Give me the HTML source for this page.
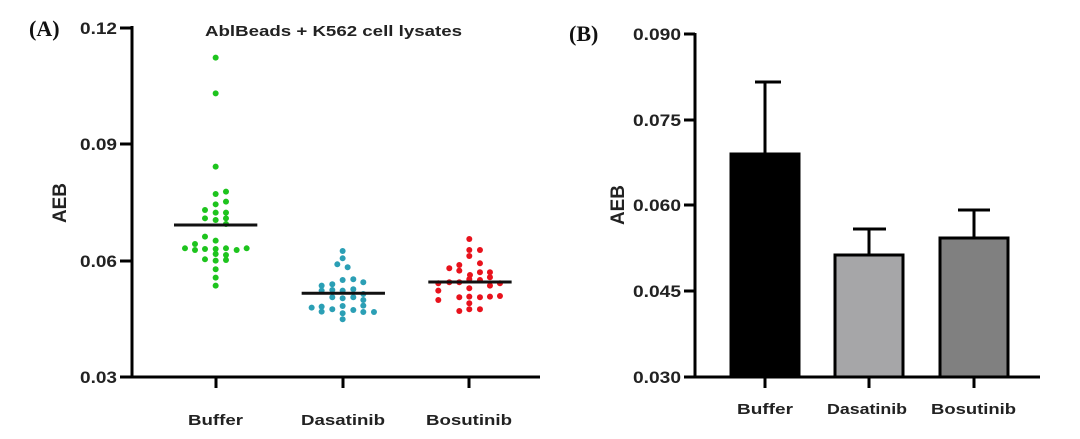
<!DOCTYPE html>
<html><head><meta charset="utf-8"><style>
body{margin:0;background:#fff}
svg{display:block}
text{font-family:"Liberation Sans",sans-serif;font-weight:bold;fill:#222}
</style></head><body>
<svg width="1080" height="439" viewBox="0 0 1080 439">
<!-- Panel A -->
<text x="29" y="36" style="font-family:'Liberation Serif',serif;font-size:22px;fill:#111">(A)</text>
<text x="205" y="36" font-size="15" textLength="257" lengthAdjust="spacingAndGlyphs">AblBeads + K562 cell lysates</text>
<g stroke="#000" stroke-width="3" fill="none">
<line x1="132" y1="26" x2="132" y2="378"/>
<line x1="131" y1="377" x2="540" y2="377"/>
<line x1="120" y1="28" x2="132" y2="28"/>
<line x1="120" y1="144" x2="132" y2="144"/>
<line x1="120" y1="261" x2="132" y2="261"/>
<line x1="120" y1="377" x2="132" y2="377"/>
<line x1="216" y1="377" x2="216" y2="388"/>
<line x1="343" y1="377" x2="343" y2="388"/>
<line x1="469" y1="377" x2="469" y2="388"/>
</g>
<g font-size="17">
<text x="80" y="34" textLength="37" lengthAdjust="spacingAndGlyphs">0.12</text><text x="80" y="150" textLength="37" lengthAdjust="spacingAndGlyphs">0.09</text><text x="80" y="267" textLength="37" lengthAdjust="spacingAndGlyphs">0.06</text><text x="80" y="383" textLength="37" lengthAdjust="spacingAndGlyphs">0.03</text>
</g>
<text transform="translate(66,203) rotate(-90)" text-anchor="middle" font-size="19" textLength="40" lengthAdjust="spacingAndGlyphs">AEB</text>
<g font-size="15">
<text x="188" y="425" textLength="55" lengthAdjust="spacingAndGlyphs">Buffer</text><text x="301" y="425" textLength="84" lengthAdjust="spacingAndGlyphs">Dasatinib</text><text x="426" y="425" textLength="86" lengthAdjust="spacingAndGlyphs">Bosutinib</text>
</g>
<g transform="translate(120,20) scale(0.3333)">
<g fill="#1ec41e">
<circle cx="287" cy="113" r="9"/><circle cx="287" cy="220" r="9"/><circle cx="287" cy="440" r="9"/><circle cx="287" cy="522" r="9"/><circle cx="318" cy="515" r="9"/><circle cx="287" cy="553" r="9"/><circle cx="318" cy="545" r="9"/><circle cx="255" cy="570" r="9"/><circle cx="287" cy="578" r="9"/><circle cx="318" cy="578" r="9"/><circle cx="255" cy="595" r="9"/><circle cx="287" cy="600" r="9"/><circle cx="318" cy="595" r="9"/><circle cx="318" cy="612" r="9"/>
<circle cx="255" cy="650" r="9"/><circle cx="287" cy="662" r="9"/><circle cx="225" cy="672" r="9"/><circle cx="195" cy="685" r="9"/><circle cx="225" cy="690" r="9"/><circle cx="255" cy="687" r="9"/><circle cx="287" cy="687" r="9"/><circle cx="318" cy="685" r="9"/><circle cx="350" cy="690" r="9"/><circle cx="380" cy="685" r="9"/><circle cx="287" cy="702" r="9"/><circle cx="255" cy="718" r="9"/><circle cx="287" cy="722" r="9"/><circle cx="318" cy="720" r="9"/><circle cx="318" cy="705" r="9"/><circle cx="287" cy="748" r="9"/><circle cx="287" cy="773" r="9"/><circle cx="287" cy="797" r="9"/>
</g>
<g fill="#2b9fb5">
<circle cx="668" cy="693" r="9"/><circle cx="668" cy="715" r="9"/><circle cx="652" cy="733" r="9"/><circle cx="683" cy="742" r="9"/><circle cx="637" cy="793" r="9"/><circle cx="668" cy="780" r="9"/><circle cx="700" cy="778" r="9"/><circle cx="730" cy="787" r="9"/><circle cx="605" cy="797" r="9"/><circle cx="605" cy="812" r="9"/><circle cx="637" cy="810" r="9"/><circle cx="668" cy="812" r="9"/><circle cx="700" cy="808" r="9"/><circle cx="730" cy="822" r="9"/><circle cx="637" cy="832" r="9"/><circle cx="668" cy="835" r="9"/><circle cx="700" cy="832" r="9"/><circle cx="730" cy="840" r="9"/><circle cx="575" cy="863" r="9"/><circle cx="605" cy="860" r="9"/><circle cx="637" cy="868" r="9"/><circle cx="668" cy="858" r="9"/><circle cx="700" cy="870" r="9"/><circle cx="730" cy="857" r="9"/><circle cx="730" cy="876" r="9"/><circle cx="762" cy="876" r="9"/><circle cx="668" cy="880" r="9"/><circle cx="668" cy="898" r="9"/><circle cx="605" cy="875" r="9"/>
</g>
<g fill="#e8121c">
<circle cx="1048" cy="657" r="9"/><circle cx="1048" cy="690" r="9"/><circle cx="1080" cy="690" r="9"/><circle cx="1048" cy="708" r="9"/><circle cx="1018" cy="735" r="9"/><circle cx="988" cy="745" r="9"/><circle cx="1018" cy="752" r="9"/><circle cx="1080" cy="730" r="9"/><circle cx="1050" cy="765" r="9"/><circle cx="1080" cy="757" r="9"/><circle cx="1110" cy="757" r="9"/><circle cx="1110" cy="772" r="9"/><circle cx="1018" cy="787" r="9"/><circle cx="955" cy="790" r="9"/><circle cx="988" cy="787" r="9"/><circle cx="1048" cy="778" r="9"/><circle cx="1080" cy="780" r="9"/><circle cx="1140" cy="790" r="9"/><circle cx="1110" cy="797" r="9"/><circle cx="1048" cy="805" r="9"/><circle cx="955" cy="812" r="9"/><circle cx="1018" cy="832" r="9"/><circle cx="1048" cy="830" r="9"/><circle cx="1080" cy="832" r="9"/><circle cx="1110" cy="830" r="9"/><circle cx="1140" cy="828" r="9"/><circle cx="955" cy="840" r="9"/><circle cx="1048" cy="850" r="9"/><circle cx="1018" cy="873" r="9"/><circle cx="1048" cy="868" r="9"/><circle cx="1080" cy="868" r="9"/>
</g>
<g stroke="#111" stroke-width="9">
<line x1="162" y1="615" x2="412" y2="615"/>
<line x1="545" y1="820" x2="795" y2="820"/>
<line x1="925" y1="786" x2="1175" y2="786"/>
</g>
</g>
<!-- Panel B -->
<text x="569" y="41" style="font-family:'Liberation Serif',serif;font-size:22px;fill:#111">(B)</text>
<g stroke="#000" stroke-width="3">
<rect x="731" y="154" width="68" height="223" fill="#000"/>
<rect x="835" y="255" width="68" height="122" fill="#a6a6a8"/>
<rect x="940" y="238" width="68" height="139" fill="#808080"/>
<line x1="765" y1="154" x2="765" y2="82"/><line x1="755" y1="82" x2="781" y2="82"/>
<line x1="869" y1="255" x2="869" y2="229"/><line x1="853" y1="229" x2="886" y2="229"/>
<line x1="974" y1="238" x2="974" y2="210"/><line x1="958" y1="210" x2="990" y2="210"/>
<line x1="695" y1="33" x2="695" y2="378"/>
<line x1="694" y1="377" x2="1040" y2="377"/>
<line x1="684" y1="34" x2="695" y2="34"/><line x1="684" y1="120" x2="695" y2="120"/><line x1="684" y1="205" x2="695" y2="205"/><line x1="684" y1="291" x2="695" y2="291"/><line x1="684" y1="377" x2="695" y2="377"/>
<line x1="765" y1="377" x2="765" y2="388"/><line x1="869" y1="377" x2="869" y2="388"/><line x1="974" y1="377" x2="974" y2="388"/>
</g>
<g font-size="17">
<text x="633" y="40" textLength="48" lengthAdjust="spacingAndGlyphs">0.090</text><text x="633" y="126" textLength="48" lengthAdjust="spacingAndGlyphs">0.075</text><text x="633" y="211" textLength="48" lengthAdjust="spacingAndGlyphs">0.060</text><text x="633" y="297" textLength="48" lengthAdjust="spacingAndGlyphs">0.045</text><text x="633" y="383" textLength="48" lengthAdjust="spacingAndGlyphs">0.030</text>
</g>
<text transform="translate(624,205) rotate(-90)" text-anchor="middle" font-size="19" textLength="40" lengthAdjust="spacingAndGlyphs">AEB</text>
<g font-size="15">
<text x="737" y="414" textLength="56" lengthAdjust="spacingAndGlyphs">Buffer</text><text x="827" y="414" textLength="80" lengthAdjust="spacingAndGlyphs">Dasatinib</text><text x="931" y="414" textLength="85" lengthAdjust="spacingAndGlyphs">Bosutinib</text>
</g>
</svg>
</body></html>
